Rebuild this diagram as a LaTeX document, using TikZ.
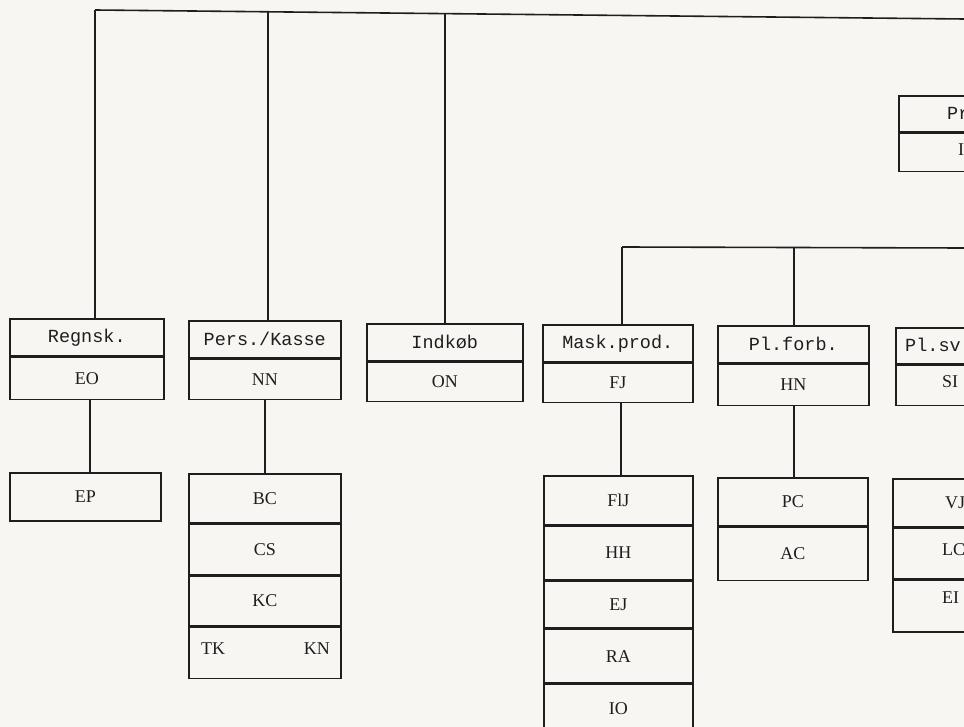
\documentclass[tikz,border=0pt]{standalone}
\usepackage{fontspec}
\setmainfont{Liberation Serif}
\setmonofont{Liberation Mono}
\definecolor{paper}{HTML}{F7F6F2}
\definecolor{ink}{HTML}{1E1E1E}
\begin{document}
\begin{tikzpicture}[x=1pt,y=-1pt,
  ln/.style={draw=ink,line width=1.6pt},
  cell/.style={ln,inner sep=0pt,anchor=north west,text=ink,
    font=\fontsize{18}{18}\selectfont},
  head/.style={cell,font=\ttfamily\fontsize{18.5}{18.5}\selectfont},
  lbl/.style={inner sep=0pt,anchor=west,text=ink,font=\fontsize{18}{18}\selectfont},
  hlbl/.style={lbl,font=\ttfamily\fontsize{18.5}{18.5}\selectfont}]
\useasboundingbox (0,0) rectangle (964,727);
\fill[paper] (0,0) rectangle (964,727);
\clip (0,0) rectangle (964,727);

% ---- top row of department boxes
\node[head,minimum width=154pt,minimum height=37pt] (regA) at (9,318) {Regnsk.};
\node[cell,minimum width=154pt,minimum height=42pt] (regB) at (regA.south west) {EO};
\node[head,minimum width=152pt,minimum height=37pt] (perA) at (188,320) {Pers./Kasse};
\node[cell,minimum width=152pt,minimum height=40pt] (perB) at (perA.south west) {NN};
\node[head,minimum width=156pt,minimum height=37pt] (indA) at (366,323) {Indkøb};
\node[cell,minimum width=156pt,minimum height=39pt] (indB) at (indA.south west) {ON};
\node[head,minimum width=150pt,minimum height=37pt] (masA) at (542,324) {Mask.prod.};
\node[cell,minimum width=150pt,minimum height=39pt] (masB) at (masA.south west) {FJ};
\node[head,minimum width=151pt,minimum height=37pt] (pfA) at (717,325) {Pl.forb.};
\node[cell,minimum width=151pt,minimum height=41pt] (pfB) at (pfA.south west) {HN};
\node[cell,minimum width=120pt,minimum height=36pt] (psA) at (895,327) {};
\node[cell,minimum width=120pt,minimum height=40pt] (psB) at (psA.south west) {};
\node[hlbl] (psAt) at (905,345) {Pl.sv};
\node[lbl] (psBt) at (942,382) {SI};

% ---- upper right box
\node[cell,minimum width=120pt,minimum height=36pt] (prA) at (898,95) {};
\node[cell,minimum width=120pt,minimum height=38pt] (prB) at (prA.south west) {};
\node[hlbl] (prAt) at (947,113) {Pr};
\node[lbl] (prBt) at (958,150) {I};

% ---- lower boxes
\node[cell,minimum width=151pt,minimum height=48pt] (ep) at (9,472) {EP};

\node[cell,minimum width=152pt,minimum height=49pt] (bc) at (188,473) {BC};
\node[cell,minimum width=152pt,minimum height=50pt] (cs) at (bc.south west) {CS};
\node[cell,minimum width=152pt,minimum height=50pt] (kc) at (cs.south west) {KC};
\node[cell,minimum width=152pt,minimum height=51pt] (tkkn) at (kc.south west) {};
\node[lbl] (tk) at (201,649) {TK};
\node[lbl,anchor=east] (kn) at (330,649) {KN};

\node[cell,minimum width=149pt,minimum height=49pt] (flj) at (543,475) {FlJ};
\node[cell,minimum width=149pt,minimum height=53pt] (hh) at (flj.south west) {HH};
\node[cell,minimum width=149pt,minimum height=47pt] (ej) at (hh.south west) {EJ};
\node[cell,minimum width=149pt,minimum height=53pt] (ra) at (ej.south west) {RA};
\node[cell,minimum width=149pt,minimum height=49pt] (io) at (ra.south west) {IO};

\node[cell,minimum width=150pt,minimum height=48pt] (pc) at (717,477) {PC};
\node[cell,minimum width=150pt,minimum height=53pt] (ac) at (pc.south west) {AC};

\node[cell,minimum width=120pt,minimum height=48pt] (vj) at (892,478) {};
\node[cell,minimum width=120pt,minimum height=50pt] (lc) at (vj.south west) {};
\node[cell,minimum width=120pt,minimum height=52pt] (ei) at (lc.south west) {};
\node[lbl] (vjt) at (945,503) {VJ};
\node[lbl] (lct) at (942,550) {LC};
\node[lbl] (eit) at (942,598) {EI};

% ---- connectors
\coordinate (busL) at (95,10);
\coordinate (busR) at (964,19);
\coordinate (b1) at (95,10);
\coordinate (b2) at (268,12);
\coordinate (b3) at (445,13.6);
\draw[ln] (busL) -- (busR);
\draw[ln] (b1) -- (b1 |- regA.north);
\draw[ln] (b2) -- (b2 |- perA.north);
\draw[ln] (b3) -- (b3 |- indA.north);

\coordinate (bus2L) at (622,247);
\coordinate (bus2R) at (964,248);
\coordinate (c1) at (622,247);
\coordinate (c2) at (794,247.5);
\draw[ln] (bus2L) -- (bus2R);
\draw[ln] (c1) -- (c1 |- masA.north);
\draw[ln] (c2) -- (c2 |- pfA.north);

\coordinate (d1) at (90,0);
\coordinate (d2) at (265,0);
\coordinate (d3) at (621,0);
\coordinate (d4) at (794,0);
\draw[ln] (d1 |- regB.south) -- (d1 |- ep.north);
\draw[ln] (d2 |- perB.south) -- (d2 |- bc.north);
\draw[ln] (d3 |- masB.south) -- (d3 |- flj.north);
\draw[ln] (d4 |- pfB.south) -- (d4 |- pc.north);
\end{tikzpicture}
\end{document}
